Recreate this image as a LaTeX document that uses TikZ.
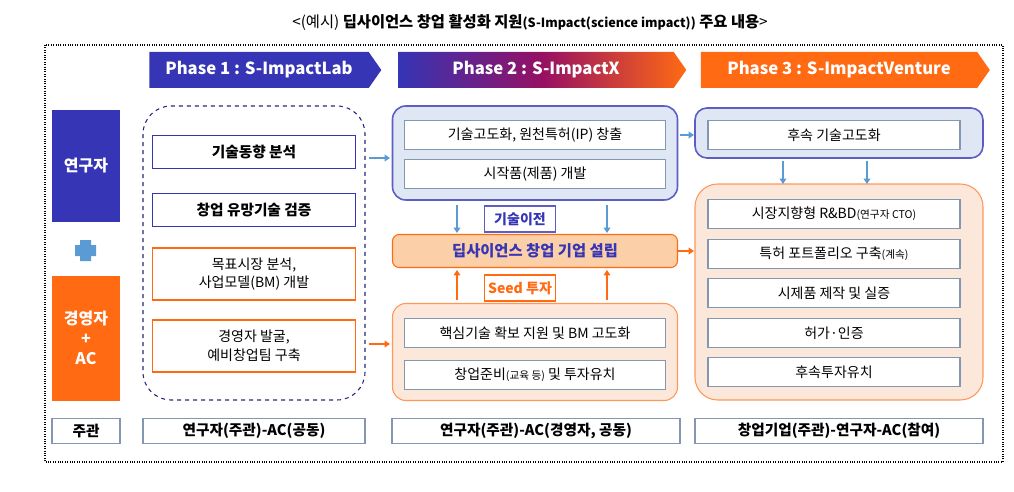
\documentclass[tikz,border=0pt]{standalone}
\usepackage{fontspec}
\setmainfont{Noto Sans CJK KR}
\usetikzlibrary{shapes.symbols,arrows.meta}
\definecolor{navy}{HTML}{3535B5}
\definecolor{org}{HTML}{FF6A13}
\definecolor{lblue}{HTML}{DEE7F3}
\definecolor{lorg}{HTML}{FCE8DA}
\definecolor{morg}{HTML}{FBCFA8}
\definecolor{arblue}{HTML}{5B9BD5}
\definecolor{gline}{HTML}{8497B0}
\def\u{0.75}
\tikzset{
  box/.style={draw=gline,fill=white,thick,minimum width=#1*\u,minimum height=29*\u,inner sep=0pt,font=\fontsize{10.5}{13}\selectfont,align=center},
  box/.default=261,
  nbox/.style={draw=navy,very thick,fill=white,minimum width=203*\u,minimum height=33*\u,inner sep=0pt,font=\bfseries\fontsize{11}{13}\selectfont},
  obox/.style={draw=org,very thick,fill=white,minimum width=203*\u,minimum height=52*\u,inner sep=0pt,font=\fontsize{10.5}{14}\selectfont,align=center},
  phase/.style={signal,signal to=east,signal pointer angle=110,text=white,font=\bfseries\fontsize{12.5}{15}\selectfont,minimum height=36*\u,inner sep=0pt},
  barr/.style={-{Triangle[length=4pt,width=5pt]},arblue,very thick},
  oarr/.style={-{Triangle[length=4pt,width=5pt]},org,very thick},
  lead/.style={draw=gline,thick,minimum width=68*\u,minimum height=25*\u,inner sep=0pt,font=\bfseries\fontsize{11}{13}\selectfont}
}
\begin{document}
\begin{tikzpicture}[x=0.75pt,y=-0.75pt]
\useasboundingbox (0,0) rectangle (1014,492);
% title and frame
\node (title) at (530,22) {\fontsize{11.5}{14}\selectfont <(예시) \textbf{딥사이언스 창업 활성화 지원}\textbf{\fontsize{9.5}{12}\selectfont(S-Impact(science impact))} \textbf{주요 내용}>};
\draw[densely dotted,thick] (45,45) rectangle (1003,462);
% phases
\node[phase,fill=navy,minimum width=232*\u] (ph1) at (259,70) {Phase 1 : S-ImpactLab};
\node[phase,left color=navy,right color=org,middle color=purple!70!navy,minimum width=288*\u] (ph2) at (536,70) {Phase 2 : S-ImpactX};
\node[phase,fill=org,minimum width=289*\u] (ph3) at (839,70) {Phase 3 : S-ImpactVenture};
% actors
\node[fill=navy,text=white,minimum width=68*\u,minimum height=112*\u,font=\bfseries\fontsize{12}{14}\selectfont] (res) at (86,166) {연구자};
\fill[arblue] (80,240) rectangle (91,261) (75,245) rectangle (96,256);
\node[fill=org,text=white,minimum width=68*\u,minimum height=125*\u,align=center,font=\bfseries\fontsize{12}{15}\selectfont] (mgr) at (86,338) {경영자\\+\\AC};
\node[lead] (lead0) at (86,431) {주관};
% phase 1
\draw[navy!70!black,thick,dashed,rounded corners=21] (143,106) rectangle (365,400);
\node[nbox] (p1a) at (254,152) {기술동향 분석};
\node[nbox] (p1b) at (254,210) {창업 유망기술 검증};
\node[obox] (p1c) at (254,274) {목표시장 분석,\\사업모델(BM) 개발};
\node[obox] (p1d) at (254,346) {경영자 발굴,\\예비창업팀 구축};
\node[lead,minimum width=222*\u] (lead1) at (254,431) {연구자(주관)-AC(공동)};
% phase 2
\node[draw=navy!80,very thick,fill=lblue,rounded corners=10,minimum width=285*\u,minimum height=94*\u] (g2a) at (535,153) {};
\node[box] (p2a) at (535,135) {기술고도화, 원천특허(IP) 창출};
\node[box] (p2b) at (535,174) {시작품(제품) 개발};
\node[draw=navy!80,thick,fill=white,minimum width=71*\u,minimum height=26*\u,inner sep=0pt,text=navy,font=\bfseries\fontsize{10.5}{13}\selectfont] (tt) at (520,219) {기술이전};
\node[draw=org,thick,fill=morg,rounded corners=5,minimum width=285*\u,minimum height=33*\u,inner sep=0pt,text=navy,font=\bfseries\fontsize{11.5}{14}\selectfont] (corp) at (535,251) {딥사이언스 창업 기업 설립};
\node[draw=org,thick,fill=white,minimum width=71*\u,minimum height=26*\u,inner sep=0pt,text=org,font=\bfseries\fontsize{10.5}{13}\selectfont] (seed) at (520,288) {Seed 투자};
\node[draw=org!70,thick,fill=lorg,rounded corners=10,minimum width=285*\u,minimum height=97*\u] (g2b) at (535,352) {};
\node[box] (p2c) at (535,333) {핵심기술 확보 지원 및 BM 고도화};
\node[box] (p2d) at (535,375) {창업준비{\fontsize{8}{10}\selectfont(교육 등)} 및 투자유치};
\node[lead,minimum width=288*\u] (lead2) at (536,431) {연구자(주관)-AC(경영자, 공동)};
% phase 3
\node[draw=navy!80,very thick,fill=lblue,rounded corners=9,minimum width=288*\u,minimum height=50*\u] (g3a) at (839,133) {};
\node[box=252] (p3a) at (834,135) {후속 기술고도화};
\node[draw=org!70,thick,fill=lorg,rounded corners=17,minimum width=288*\u,minimum height=216*\u] (g3b) at (839,292) {};
\node[box=252] (p3b) at (834,214) {시장지향형 R\&BD{\fontsize{8}{10}\selectfont(연구자 CTO)}};
\node[box=252] (p3c) at (834,254) {특허 포트폴리오 구축{\fontsize{8}{10}\selectfont(계속)}};
\node[box=252] (p3d) at (834,293) {시제품 제작 및 실증};
\node[box=252] (p3e) at (834,333) {허가·인증};
\node[box=252] (p3f) at (834,372) {후속투자유치};
\node[lead,minimum width=288*\u] (lead3) at (839,431) {창업기업(주관)-연구자-AC(참여)};
% connectors
\coordinate (a1) at (369,158); \coordinate (a2) at (390,158);
\coordinate (b1) at (369,344); \coordinate (b2) at (390,344);
\coordinate (c1) at (680,135); \coordinate (c2) at (694,135);
\coordinate (d2) at (694,251);
\draw[barr] (a1) -- (a2);
\draw[oarr] (b1) -- (b2);
\draw[barr] (c1) -- (c2);
\draw[oarr] (corp.east) -- (d2);
\foreach \x in {457,607} {
  \draw[barr] (\x,205) -- (\x,233);
  \draw[oarr] (\x,300) -- (\x,270);
}
\foreach \x in {783,867}
  \draw[barr] (\x,161) -- (\x,184);
\end{tikzpicture}
\end{document}
